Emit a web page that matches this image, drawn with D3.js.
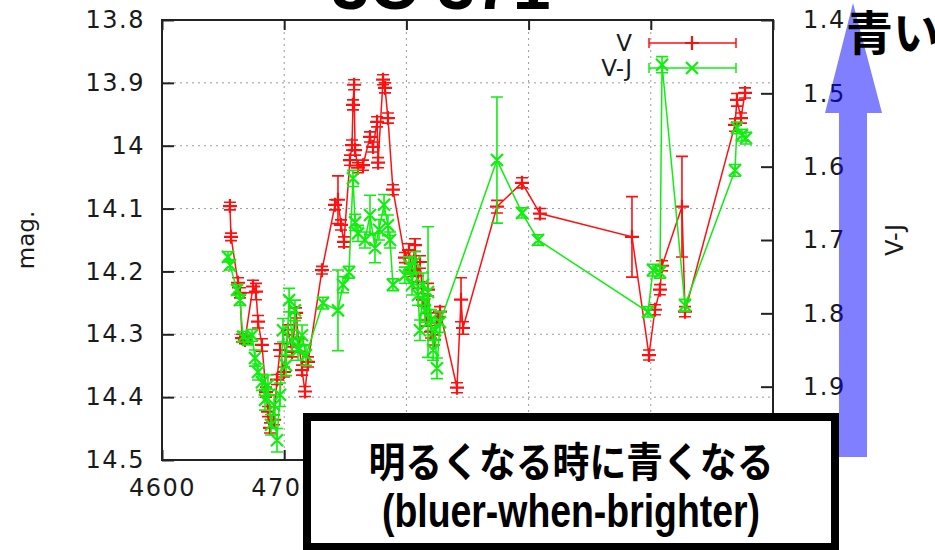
<!DOCTYPE html>
<html>
<head>
<meta charset="utf-8">
<script src="https://cdn.jsdelivr.net/npm/d3@7/dist/d3.min.js"></script>
<style>
  html, body { margin: 0; padding: 0; background: #fff; }
  svg { display: block; }
  .tick text { font-family: "DejaVu Sans", sans-serif; font-size: 24px; fill: #1a1a1a; letter-spacing: 1.5px; }
</style>
</head>
<body>
<svg id="chart" width="935" height="550"></svg>
<script>
// Axis ticks
const jdTicks  = [4600, 4700, 4800, 4900, 5000, 5100];
const magTicks = [13.8, 13.9, 14.0, 14.1, 14.2, 14.3, 14.4, 14.5];
const vjTicks  = [1.4, 1.5, 1.6, 1.7, 1.8, 1.9, 2.0];

// V-band light curve: JD-2450000, magnitude, error
const vJD = [4655.6,4656.5,4662.2,4663.8,4665.5,4667.9,4674.5,4676.9,4678.6,4681.8,
  4685.1,4686.7,4688.4,4691.7,4694.1,4696.6,4699.8,4703.1,4706.4,4709.7,
  4712.1,4714.6,4717.0,4719.5,4730.9,4741.6,4744.0,4746.5,4748.9,4753.8,
  4755.5,4756.3,4757.2,4758.0,4760.4,4764.5,4770.2,4772.7,4776.0,4776.8,
  4780.9,4782.5,4784.9,4789.0,4798.8,4802.1,4804.6,4807.0,4809.5,4811.1,
  4813.6,4816.0,4817.7,4820.1,4822.6,4825.0,4827.5,4841.4,4844.7,4846.3,
  4874.1,4894.6,4909.3,4984.6,4998.5,5003.4,5007.5,5009.2,5025.5,5028.0,
  5068.9,5070.5,5073.8,5077.1];
const vMag = [14.096,14.145,14.218,14.234,14.306,14.309,14.224,14.232,14.280,14.317,
  14.392,14.423,14.449,14.436,14.372,14.325,14.360,14.293,14.328,14.266,
  14.317,14.357,14.391,14.344,14.198,14.094,14.086,14.126,14.153,14.023,
  13.999,13.935,13.903,14.007,14.035,14.031,13.986,14.002,13.962,14.027,
  13.895,13.908,13.956,14.070,14.178,14.166,14.198,14.158,14.217,14.185,
  14.245,14.277,14.229,14.296,14.309,14.274,14.264,14.385,14.245,14.290,
  14.097,14.059,14.108,14.145,14.333,14.261,14.229,14.191,14.097,14.264,
  13.967,13.927,13.956,13.916];
const vErr = [0.006,0.006,0.008,0.008,0.006,0.006,0.010,0.013,0.010,0.010,
  0.008,0.008,0.008,0.008,0.008,0.010,0.008,0.008,0.008,0.008,
  0.010,0.008,0.008,0.008,0.006,0.008,0.038,0.008,0.008,0.008,
  0.008,0.008,0.008,0.008,0.008,0.008,0.008,0.008,0.008,0.008,
  0.008,0.008,0.008,0.008,0.008,0.010,0.010,0.010,0.010,0.010,
  0.010,0.010,0.010,0.010,0.008,0.008,0.008,0.008,0.035,0.010,
  0.010,0.008,0.008,0.064,0.008,0.008,0.008,0.008,0.080,0.008,
  0.010,0.010,0.008,0.008];

// V-J colour curve: JD-2450000, colour, error
const cJD = [4654.0,4655.6,4661.4,4663.8,4666.3,4670.4,4673.7,4676.1,4678.6,4681.8,
  4684.3,4686.7,4689.2,4691.7,4694.1,4696.6,4699.0,4701.5,4704.0,4706.4,
  4708.8,4711.3,4714.6,4717.8,4731.7,4744.0,4748.1,4753.0,4756.3,4758.0,
  4760.4,4766.1,4770.2,4774.3,4777.6,4781.7,4784.9,4786.6,4789.0,4798.8,
  4802.1,4804.6,4807.0,4809.5,4811.1,4813.6,4815.2,4817.7,4820.1,4821.8,
  4823.4,4825.0,4827.5,4874.1,4894.6,4907.7,4997.7,5001.8,5007.5,5009.2,
  5028.0,5068.9,5070.5,5074.6,5077.9];
const cVJ = [1.723,1.734,1.768,1.782,1.832,1.836,1.830,1.861,1.880,1.894,
  1.918,1.898,1.952,1.925,1.973,1.911,1.823,1.871,1.782,1.837,
  1.796,1.850,1.830,1.857,1.786,1.796,1.761,1.744,1.616,1.676,
  1.691,1.700,1.666,1.711,1.686,1.652,1.680,1.700,1.761,1.748,
  1.734,1.761,1.730,1.775,1.823,1.761,1.796,1.771,1.809,1.850,
  1.823,1.875,1.812,1.591,1.663,1.700,1.798,1.741,1.744,1.461,
  1.789,1.605,1.547,1.557,1.561];
const cErr = [0.007,0.007,0.007,0.007,0.007,0.007,0.008,0.011,0.011,0.011,
  0.014,0.014,0.014,0.014,0.016,0.016,0.016,0.014,0.016,0.014,
  0.014,0.014,0.014,0.014,0.008,0.055,0.011,0.008,0.011,0.011,
  0.011,0.011,0.027,0.020,0.014,0.014,0.014,0.011,0.008,0.011,
  0.011,0.014,0.014,0.014,0.014,0.016,0.016,0.089,0.014,0.014,
  0.014,0.014,0.014,0.086,0.007,0.007,0.007,0.008,0.008,0.011,
  0.008,0.008,0.008,0.008,0.008];

const seriesNames = ["V", "V-J"];
const titleText = "3C 371";
const noteLines = ["明るくなる時に青くなる", "(bluer-when-brighter)"];
const arrowLabel = "青い";

const svg = d3.select("#chart");
const L = 162, R = 773, T = 20, B = 460;
const x  = d3.scaleLinear().domain([4600, 5100]).range([L, R]);
const yL = d3.scaleLinear().domain([13.8, 14.5]).range([T, B]);
const yR = d3.scaleLinear().domain([1.4, 2.0]).range([T, B]);

const RED = "#ff1010", GREEN = "#10ee10";

// grid
const grid = svg.append("g").attr("stroke", "#9a9a9a").attr("stroke-width", 1)
  .attr("stroke-dasharray", "2,4");
grid.selectAll("line.h").data(magTicks.slice(1, -1)).join("line")
  .attr("x1", L).attr("x2", R).attr("y1", d => yL(d)).attr("y2", d => yL(d));
grid.selectAll("line.v").data(jdTicks.slice(1, -1)).join("line")
  .attr("y1", T).attr("y2", B).attr("x1", d => x(d)).attr("x2", d => x(d));

svg.append("defs").append("clipPath").attr("id", "plotclip")
  .append("rect").attr("x", L).attr("y", T).attr("width", R - L).attr("height", B - T);

const plot = svg.append("g").attr("clip-path", "url(#plotclip)");

function drawSeries(jd, val, err, yScale, color, marker) {
  const pts = jd.map((d, i) => ({ x: x(d), y: yScale(val[i]), lo: yScale(val[i] - err[i]), hi: yScale(val[i] + err[i]) }));
  const g = plot.append("g").attr("fill", "none").attr("stroke", color);
  g.append("path").attr("stroke-width", 1.5)
    .attr("d", d3.line().x(p => p.x).y(p => p.y)(pts));
  const cap = 6;
  g.append("path").attr("stroke-width", 1.6)
    .attr("d", pts.map(p => `M${p.x},${p.lo}V${p.hi}M${p.x - cap},${p.lo}H${p.x + cap}M${p.x - cap},${p.hi}H${p.x + cap}`).join(""));
  const s = 7;
  g.append("path").attr("stroke-width", 2.2)
    .attr("d", pts.map(p => marker === "plus"
      ? `M${p.x - s},${p.y}H${p.x + s}M${p.x},${p.y - s}V${p.y + s}`
      : `M${p.x - 6},${p.y - 6}L${p.x + 6},${p.y + 6}M${p.x - 6},${p.y + 6}L${p.x + 6},${p.y - 6}`).join(""));
}
drawSeries(vJD, vMag, vErr, yL, RED, "plus");
drawSeries(cJD, cVJ, cErr, yR, GREEN, "cross");

// axes
const fmt = d => String(+d.toFixed(1));
svg.append("g").attr("transform", `translate(${L},0)`)
  .call(d3.axisLeft(yL).tickValues(magTicks).tickFormat(fmt).tickSizeInner(-12).tickSizeOuter(0).tickPadding(17));
svg.append("g").attr("transform", `translate(${R},0)`)
  .call(d3.axisRight(yR).tickValues(vjTicks).tickFormat(fmt).tickSizeInner(-12).tickSizeOuter(0).tickPadding(30));
svg.append("g").attr("transform", `translate(0,${B})`)
  .call(d3.axisBottom(x).tickValues(jdTicks).tickFormat(d3.format("d")).tickSizeInner(-10).tickSizeOuter(0).tickPadding(19));
svg.append("g").attr("transform", `translate(0,${T})`)
  .call(d3.axisTop(x).tickValues(jdTicks).tickFormat("").tickSizeInner(-10).tickSizeOuter(0));
svg.selectAll(".domain").remove();
svg.selectAll(".tick line").attr("stroke", "#222").attr("stroke-width", 2);
svg.append("rect").attr("x", L).attr("y", T).attr("width", R - L).attr("height", B - T)
  .attr("fill", "none").attr("stroke", "#222").attr("stroke-width", 2);

// axis titles
svg.append("text").attr("transform", "translate(34,240) rotate(-90)")
  .attr("text-anchor", "middle").attr("font-family", "DejaVu Sans, sans-serif")
  .attr("font-size", 23).attr("fill", "#1a1a1a").text("mag.");
svg.append("text").attr("transform", "translate(903,240) rotate(-90)")
  .attr("text-anchor", "middle").attr("font-family", "DejaVu Sans, sans-serif")
  .attr("font-size", 24).attr("fill", "#1a1a1a").text("V-J");

// legend
const legend = svg.append("g");
[[43, RED, "plus"], [68, GREEN, "cross"]].forEach(([ly, color, m], i) => {
  legend.append("text").attr("x", 632).attr("y", ly).attr("dy", "0.36em")
    .attr("text-anchor", "end").attr("font-family", "DejaVu Sans, sans-serif")
    .attr("font-size", 23).attr("fill", "#1a1a1a").text(seriesNames[i]);
  const x0 = 649, x1 = 736, xm = 692;
  legend.append("path").attr("fill", "none").attr("stroke", color).attr("stroke-width", 1.5)
    .attr("d", `M${x0},${ly}H${x1}M${x0},${ly - 5}V${ly + 5}M${x1},${ly - 5}V${ly + 5}`);
  legend.append("path").attr("fill", "none").attr("stroke", color).attr("stroke-width", 2.2)
    .attr("d", m === "plus" ? `M${xm - 7},${ly}H${xm + 7}M${xm},${ly - 7}V${ly + 7}`
      : `M${xm - 6},${ly - 6}L${xm + 6},${ly + 6}M${xm - 6},${ly + 6}L${xm + 6},${ly - 6}`);
});

// title (runs off the top edge)
svg.append("text").attr("x", 441).attr("y", 9).attr("text-anchor", "middle")
  .attr("font-family", "Liberation Sans, Arial, sans-serif").attr("font-weight", "bold")
  .attr("font-size", 68).attr("fill", "#000").text(titleText);

// "bluer" arrow along the colour axis
svg.append("path").attr("fill", "rgba(0,0,255,0.5)")
  .attr("d", "M853,3 L882,113 L867,113 L867,457 L839,457 L839,113 L825,113 Z");
svg.append("text").attr("x", 846).attr("y", 50)
  .attr("font-family", "Noto Sans CJK JP, sans-serif").attr("font-weight", "bold")
  .attr("font-size", 47).attr("fill", "#000").text(arrowLabel);

// annotation box
svg.append("rect").attr("x", 307).attr("y", 417).attr("width", 528).attr("height", 130)
  .attr("fill", "#fff").attr("stroke", "#000").attr("stroke-width", 8);
svg.append("text").attr("x", 571).attr("y", 477).attr("text-anchor", "middle")
  .attr("font-family", "Noto Sans CJK JP, sans-serif").attr("font-weight", "bold")
  .attr("font-size", 41).attr("textLength", 405).attr("lengthAdjust", "spacingAndGlyphs")
  .attr("fill", "#000").text(noteLines[0]);
svg.append("text").attr("x", 571).attr("y", 527).attr("text-anchor", "middle")
  .attr("font-family", "Liberation Sans Narrow, Liberation Sans, Arial, sans-serif")
  .attr("font-weight", "bold")
  .attr("font-size", 47).attr("textLength", 378).attr("lengthAdjust", "spacingAndGlyphs")
  .attr("fill", "#000").text(noteLines[1]);
</script>
</body>
</html>
